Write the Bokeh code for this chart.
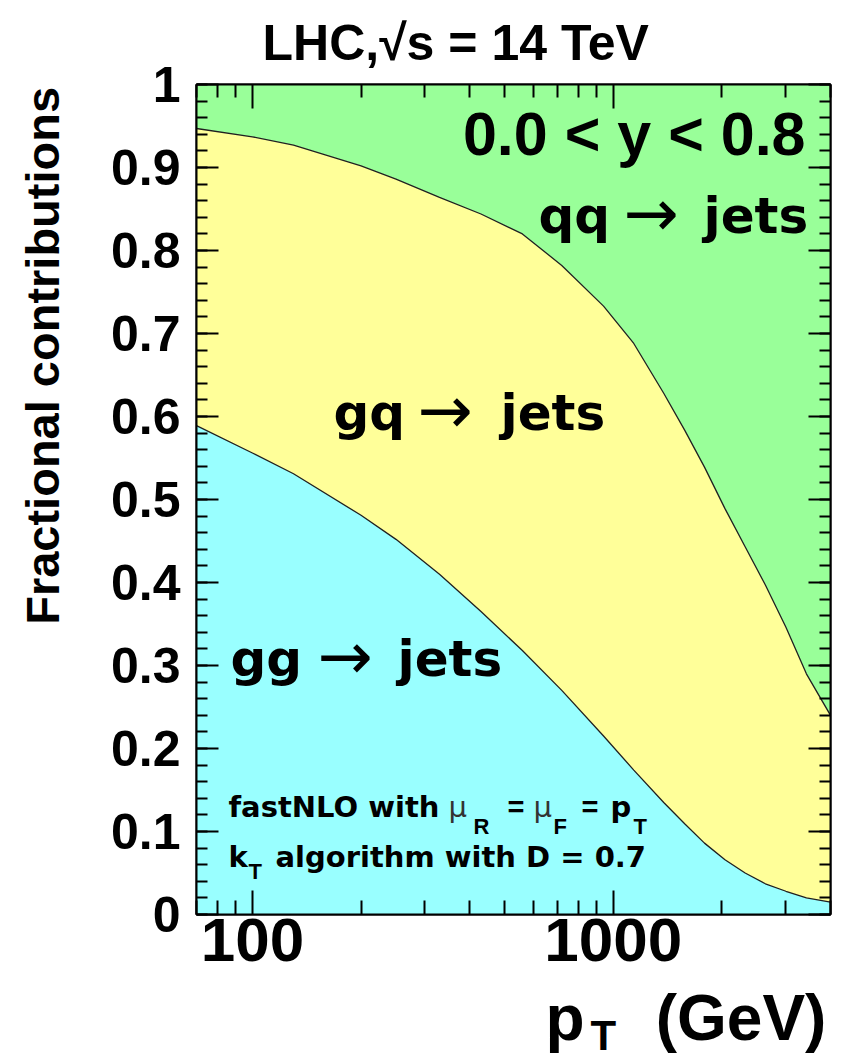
import math
from bokeh.plotting import figure
from bokeh.models import (ColumnDataSource, Range1d, FixedTicker, LinearAxis, LogAxis,
                          CustomJSTickFormatter, Label)
from bokeh.embed import file_html
from bokeh.resources import INLINE

# ---------------- data (fractional contributions) ----------------
pt = [70, 100, 130, 200, 250, 330, 430, 560, 720, 940, 1140, 1380, 1580, 1790, 2040, 2320, 2640, 3010, 3430, 4000]
gg = [0.589, 0.556, 0.531, 0.481, 0.452, 0.410, 0.365, 0.318, 0.270, 0.215, 0.174, 0.135, 0.109, 0.086, 0.066, 0.050, 0.037, 0.028, 0.020, 0.015]
gq = [0.358, 0.381, 0.396, 0.421, 0.434, 0.454, 0.479, 0.502, 0.512, 0.518, 0.514, 0.493, 0.474, 0.453, 0.423, 0.393, 0.360, 0.318, 0.270, 0.225]
qq = [0.053, 0.063, 0.073, 0.098, 0.114, 0.136, 0.156, 0.180, 0.218, 0.267, 0.312, 0.372, 0.417, 0.461, 0.511, 0.557, 0.603, 0.654, 0.710, 0.760]

series = ["gg", "gq", "qq"]
colors = ["#99FFFF", "#FFFF99", "#99FF99"]

x_ticks = [100, 1000]
x_minor = [70, 80, 90, 200, 300, 400, 500, 600, 700, 800, 900, 2000, 3000, 4000]
y_ticks = [0.0, 0.1, 0.2, 0.3, 0.4, 0.5, 0.6, 0.7, 0.8, 0.9, 1.0]
y_minor = [round(i * 0.02, 2) for i in range(51)]

title_text = "LHC,√s = 14 TeV"
y_label = "Fractional contributions"
rap_text = "0.0 < y < 0.8"

AX_FONT = "Liberation Sans"
IN_FONT = "DejaVu Sans"
NBSP = "\u00a0"

# frame placement in the page (pixels)
FL, FT, FW, FH = 196, 84, 634, 830

# ---------------- figure ----------------
p = figure(frame_width=FW, frame_height=FH,
           x_axis_type="log", x_range=Range1d(70, 4000), y_range=Range1d(0, 1),
           output_backend="svg", toolbar_location=None,
           min_border_left=FL, min_border_right=14, min_border_top=FT, min_border_bottom=146)
p.xgrid.visible = False
p.ygrid.visible = False
p.outline_line_color = "black"
p.outline_line_width = 2
p.background_fill_color = "white"

p.title.text = title_text
p.title.align = "left"
p.title.offset = 66
p.title.vertical_align = "top"
p.title.text_font = AX_FONT
p.title.text_font_style = "bold"
p.title.text_font_size = "50px"
p.title.text_color = "black"
p.title.standoff = 24

src = ColumnDataSource(dict(pt=pt, gg=gg, gq=gq, qq=qq))
p.varea_stack(series, x="pt", source=src, color=colors)
p.vline_stack(series[:2], x="pt", source=src, color="#202020", line_width=1.3)

# ---------------- axes ----------------
yfmt = CustomJSTickFormatter(code="return String(Math.round(tick*10)/10)")
xfmt = CustomJSTickFormatter(code="return String(Math.round(tick))")
nofmt = CustomJSTickFormatter(code="return ''")


def style(ax, maj, mino, label_size, standoff):
    ax.major_tick_in = maj
    ax.major_tick_out = 0
    ax.minor_tick_in = mino
    ax.minor_tick_out = 0
    ax.major_tick_line_width = 2
    ax.minor_tick_line_width = 2
    ax.major_tick_line_color = "black"
    ax.minor_tick_line_color = "black"
    ax.axis_line_width = 2
    ax.axis_line_color = "black"
    ax.major_label_text_font = AX_FONT
    ax.major_label_text_font_style = "bold"
    ax.major_label_text_color = "black"
    ax.major_label_text_font_size = label_size
    ax.major_label_standoff = standoff


yl = p.yaxis[0]
yl.ticker = FixedTicker(ticks=y_ticks, minor_ticks=y_minor)
yl.formatter = yfmt
style(yl, 22, 11, "50px", 16)

xb = p.xaxis[0]
xb.ticker = FixedTicker(ticks=x_ticks, minor_ticks=x_minor)
xb.formatter = xfmt
style(xb, 24, 14, "62px", 4)

yr = LinearAxis(ticker=FixedTicker(ticks=y_ticks, minor_ticks=y_minor), formatter=nofmt)
style(yr, 22, 11, "2px", 0)
p.add_layout(yr, "right")

xt = LogAxis(ticker=FixedTicker(ticks=x_ticks, minor_ticks=x_minor), formatter=nofmt)
style(xt, 24, 13, "2px", 0)
p.add_layout(xt, "above")

# y axis title: shifted toward the top of the frame (as in the reference)
yl.axis_label = NBSP * 22 + y_label
yl.axis_label_align = "center"
yl.axis_label_standoff = 39
yl.axis_label_text_font = AX_FONT
yl.axis_label_text_font_style = "bold"
yl.axis_label_text_font_size = "47px"
yl.axis_label_text_color = "black"


# ---------------- texts (page pixel positions converted to frame screen units) ----------------
def lab(text, px, py, size, font=IN_FONT, bold=True, align="left", color="black", place=None, base=None):
    x = px - FL
    ref = (FT + FH) if base is None else base
    y = ref - py + 0.4 * size
    lbl = Label(text=text, x=x, y=y, x_units="screen", y_units="screen",
                text_font=font, text_font_size=f"{size}px",
                text_font_style="bold" if bold else "normal",
                text_align=align, text_baseline="alphabetic", text_color=color)
    if place is None:
        p.add_layout(lbl)
    else:
        p.add_layout(lbl, place)


# x axis title: p_T (GeV), below the axis
lab("p" + NBSP * 4 + "(GeV)", 545, 1037, 64, font=AX_FONT, place="below", base=1029)
lab("T", 590, 1050, 42, font=AX_FONT, place="below", base=1080)

# rapidity range
lab(rap_text, 805, 158, 61, font=AX_FONT, align="right")

# process labels
lab("qq", 538, 235, 50)
lab("→", 623, 239, 66, bold=False)
lab("jets", 703, 235, 50)

lab("gq", 333, 432, 50)
lab("→", 417, 436, 66, bold=False)
lab("jets", 500, 432, 50)

lab("gg", 230, 678, 50)
lab("→", 317, 682, 66, bold=False)
lab("jets", 397, 678, 50)

# fastNLO info
lab("fastNLO with", 228, 818, 29)
lab("μ", 448, 818, 29, bold=False, color="#333333")
lab("R", 473, 835, 22, font=AX_FONT)
lab("=", 507, 818, 29, font=AX_FONT)
lab("μ", 533, 818, 29, bold=False, color="#333333")
lab("F", 553, 835, 22, font=AX_FONT)
lab("=", 581, 818, 29, font=AX_FONT)
lab("p", 610, 818, 29)
lab("T", 633, 835, 22, font=AX_FONT)

lab("k", 228, 868, 29)
lab("T", 248, 880, 22, font=AX_FONT)
lab("algorithm with D = 0.7", 275, 868, 29)

open("out.html", "w").write(file_html(p, INLINE))
